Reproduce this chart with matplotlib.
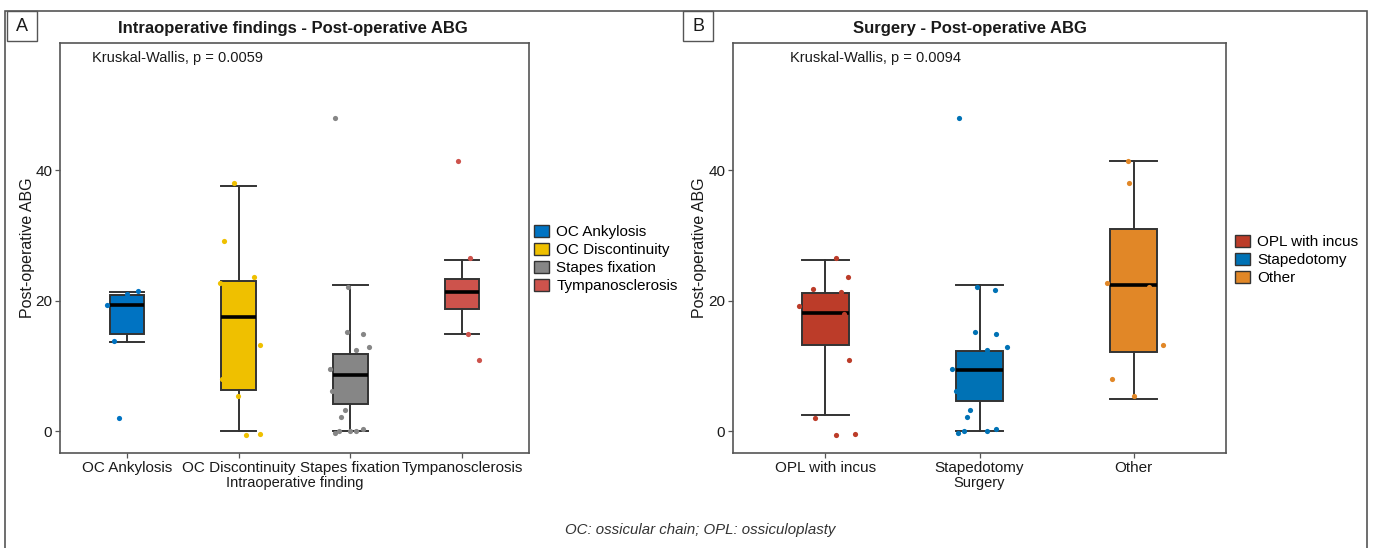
import matplotlib
matplotlib.use("Agg")
import matplotlib.pyplot as plt
from matplotlib.patches import Rectangle, Patch

plt.rcParams['font.family'] = ['Liberation Sans', 'DejaVu Sans']

# ---------------- data ----------------
# Panel A: intraoperative findings
cats_a = ["OC Ankylosis", "OC Discontinuity", "Stapes fixation", "Tympanosclerosis"]
colors_a = ["#0073C2", "#EFC000", "#868686", "#CD534C"]
whislo_a = [13.7, 0.0, 0.0, 15.0]
q1_a = [14.9, 6.3, 4.2, 18.75]
med_a = [19.3, 17.5, 8.7, 21.3]
q3_a = [20.9, 23.1, 11.8, 23.4]
whishi_a = [21.35, 37.65, 22.5, 26.2]
pts_a = [
    [19.3, 21.5, 13.8, 2.1, 21.1],
    [38.0, 29.2, 23.6, 22.8, 13.3, 8.0, 5.4, -0.5, -0.4],
    [48.0, 22.2, 15.3, 15.0, 12.9, 12.5, 9.6, 6.2, 3.3, 2.2, -0.2, 0.0, 0.0, 0.0, 0.3],
    [41.4, 26.5, 15.0, 11.0],
]
jit_a = [
    [-0.18, 0.10, -0.12, -0.07, 0.0],
    [-0.04, -0.13, 0.14, -0.17, 0.19, -0.15, -0.01, 0.07, 0.19],
    [-0.135, -0.02, -0.03, 0.11, 0.17, 0.05, -0.18, -0.16, -0.05, -0.08, -0.14, -0.10, 0.0, 0.05, 0.11],
    [-0.04, 0.07, 0.05, 0.15],
]

# Panel B: surgery
cats_b = ["OPL with incus", "Stapedotomy", "Other"]
colors_b = ["#BC3C29", "#0072B5", "#E18727"]
whislo_b = [2.45, 0.0, 4.9]
q1_b = [13.2, 4.65, 12.16]
med_b = [18.1, 9.45, 22.4]
q3_b = [21.25, 12.3, 30.96]
whishi_b = [26.2, 22.4, 41.4]
pts_b = [
    [26.6, 23.6, 21.8, 21.3, 19.2, 18.0, 11.0, 2.1, -0.5, -0.4],
    [48.0, 22.2, 21.6, 15.3, 15.0, 12.9, 12.5, 9.6, 6.2, 3.3, 2.2, -0.2, 0.0, 0.0, 0.3],
    [41.4, 38.0, 22.8, 22.2, 13.3, 8.0, 5.4],
]
jit_b = [
    [0.07, 0.145, -0.08, 0.10, -0.17, 0.12, 0.156, -0.07, 0.07, 0.19],
    [-0.13, -0.015, 0.10, -0.03, 0.11, 0.18, 0.05, -0.18, -0.15, -0.06, -0.08, -0.14, -0.10, 0.05, 0.11],
    [-0.035, -0.03, -0.17, 0.10, 0.19, -0.14, 0.0],
]

yticks = [0, 20, 40]
kw_a = "Kruskal-Wallis, p = 0.0059"
kw_b = "Kruskal-Wallis, p = 0.0094"

# ---------------- figure ----------------
W, H = 1373, 548
fig = plt.figure(figsize=(W / 100, H / 100), dpi=100)
fig.patch.set_facecolor("white")


def px_axes(l, t, r, b):
    return fig.add_axes([l / W, 1 - b / H, (r - l) / W, (b - t) / H])


def draw_panel(ax, cats, colors, wlo, q1, med, q3, whi, pts, jit, width, xlabel, kw, kwx):
    stats = []
    for i in range(len(cats)):
        stats.append(dict(whislo=wlo[i], q1=q1[i], med=med[i], q3=q3[i], whishi=whi[i], fliers=[]))
    pos = list(range(1, len(cats) + 1))
    bp = ax.bxp(stats, positions=pos, widths=width, capwidths=width, patch_artist=True,
                showfliers=False,
                boxprops=dict(edgecolor="#333333", linewidth=1.4),
                whiskerprops=dict(color="#333333", linewidth=1.4),
                capprops=dict(color="#333333", linewidth=1.4),
                medianprops=dict(color="black", linewidth=2.6))
    for patch, c in zip(bp["boxes"], colors):
        patch.set_facecolor(c)
    for i, (vals, jx) in enumerate(zip(pts, jit)):
        xs = [pos[i] + j for j in jx]
        ax.scatter(xs, vals, s=14, color=colors[i], zorder=5, linewidths=0)
    ax.set_xlim(0.4, len(cats) + 0.6)
    ax.set_ylim(-3.3, 59.5)
    ax.set_xticks(pos)
    ax.set_xticklabels(cats, fontsize=11, color="#1a1a1a")
    ax.set_yticks(yticks)
    ax.set_yticklabels([str(v) for v in yticks], fontsize=11, color="#1a1a1a")
    ax.tick_params(length=3.5, width=0.9, color="#555555", pad=2)
    for s in ax.spines.values():
        s.set_color("#555555")
        s.set_linewidth(1.2)
    ax.set_xlabel(xlabel, fontsize=10.5, labelpad=1, color="#1a1a1a")
    ax.set_ylabel("Post-operative ABG", fontsize=11.5, color="#1a1a1a")
    ax.yaxis.set_label_coords(-0.053, 0.5)
    ax.text(kwx, 57.2, kw, fontsize=10.5, ha="left", va="center", color="#1a1a1a")
    return bp


axA = px_axes(60, 43, 529, 453)
draw_panel(axA, cats_a, colors_a, whislo_a, q1_a, med_a, q3_a, whishi_a, pts_a, jit_a,
           0.31, "Intraoperative finding", kw_a, 0.69)
axB = px_axes(733, 43, 1226, 453)
draw_panel(axB, cats_b, colors_b, whislo_b, q1_b, med_b, q3_b, whishi_b, pts_b, jit_b,
           0.30, "Surgery", kw_b, 0.77)

# titles
fig.text(293 / W, 1 - 28 / H, "Intraoperative findings - Post-operative ABG", ha="center", va="center",
         fontsize=12, fontweight="bold", color="#1a1a1a")
fig.text(970 / W, 1 - 28 / H, "Surgery - Post-operative ABG", ha="center", va="center",
         fontsize=12, fontweight="bold", color="#1a1a1a")

# legends
hA = [Patch(facecolor=c, edgecolor="#333333", linewidth=1.0) for c in colors_a]
fig.legend(hA, cats_a, loc="center left", bbox_to_anchor=(528 / W, 1 - 259 / H), frameon=False,
           fontsize=11, handlelength=1.0, handleheight=0.8, handletextpad=0.45, labelspacing=0.25,
           borderaxespad=0)
hB = [Patch(facecolor=c, edgecolor="#333333", linewidth=1.0) for c in colors_b]
fig.legend(hB, cats_b, loc="center left", bbox_to_anchor=(1229 / W, 1 - 260 / H), frameon=False,
           fontsize=11, handlelength=1.0, handleheight=0.8, handletextpad=0.45, labelspacing=0.25,
           borderaxespad=0)

# outer frame and panel labels
fig.patches.append(Rectangle((5 / W, -0.02), (1367 - 5) / W, (H - 11) / H + 0.02,
                             transform=fig.transFigure, facecolor="none", edgecolor="#555555",
                             linewidth=1.2))
for lbl, x0 in (("A", 7), ("B", 683)):
    fig.patches.append(Rectangle((x0 / W, 1 - 41 / H), 30 / W, 30 / H, transform=fig.transFigure,
                                 facecolor="white", edgecolor="#555555", linewidth=1.0))
    fig.text((x0 + 15) / W, 1 - 26.5 / H, lbl, ha="center", va="center", fontsize=13, color="#1a1a1a")

# caption
fig.text(700 / W, 1 - 530 / H, "OC: ossicular chain; OPL: ossiculoplasty", ha="center", va="center",
         fontsize=10.8, style="italic", color="#333333",
         family=["Liberation Sans Narrow", "Liberation Sans", "DejaVu Sans"])

fig.savefig("out.png", dpi=100)
